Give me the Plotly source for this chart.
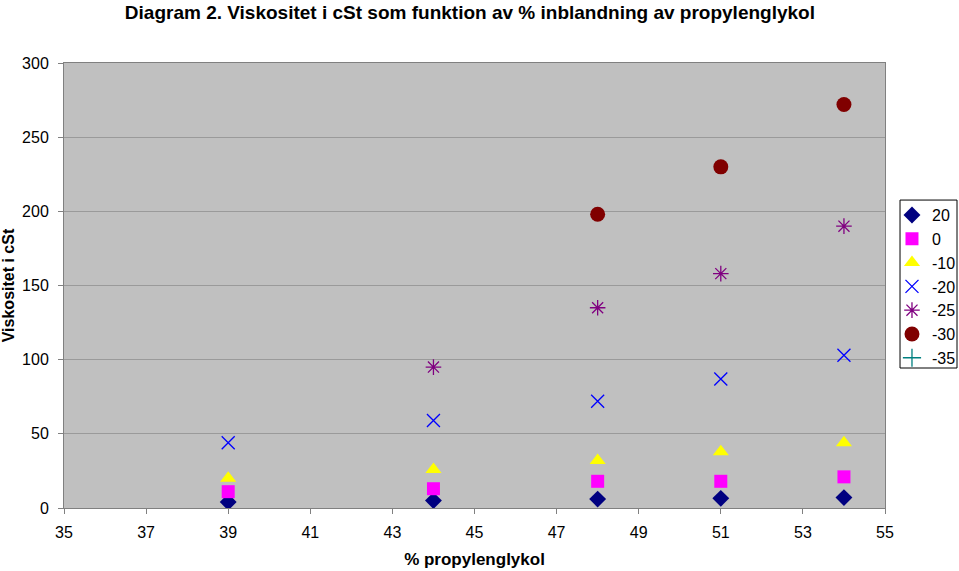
import plotly.graph_objects as go

x_vals = [39, 44, 48, 51, 54]
s20 = [4, 5, 6, 6.5, 7]
s0 = [11, 13, 18, 18, 21]
s_10 = [20, 26, 32, 38, 44]
s_20 = [44, 59, 72, 87, 103]
s_25 = [None, 95, 135, 158, 190]
s_30 = [None, None, 198, 230, 272]
s_35 = [None, None, None, None, None]

series = [
    ("20", s20, "diamond", "#000080", 13, 0),
    ("0", s0, "square", "#FF00FF", 13, 0),
    ("-10", s_10, "triangle-up", "#FFFF00", 14, 0),
    ("-20", s_20, "x-thin-open", "#0000FF", 13, 1.3),
    ("-25", s_25, "asterisk-open", "#800080", 13, 1.3),
    ("-30", s_30, "circle", "#800000", 15, 0),
    ("-35", s_35, "cross-thin-open", "#008080", 13, 1.3),
]

fig = go.Figure()
for name, ys, sym, col, size, lw in series:
    fig.add_trace(go.Scatter(
        x=x_vals, y=ys, mode="markers", name=name,
        marker=dict(symbol=sym, color=col, size=size,
                    line=dict(width=lw, color=col)),
    ))

fig.update_layout(
    width=959, height=571,
    paper_bgcolor="white", plot_bgcolor="#C0C0C0",
    margin=dict(l=64, r=74, t=63, b=63, autoexpand=False),
    font=dict(family="Arial, Liberation Sans, sans-serif", size=14, color="black"),
    title=dict(text="<b>Diagram 2. Viskositet i cSt som funktion av % inblandning av propylenglykol</b>",
               x=0.49, xanchor="center", y=0.99, yanchor="top", pad=dict(t=0),
               font=dict(family="Arial, Liberation Sans, sans-serif", size=19)),
    legend=dict(x=1.0085, xanchor="left", y=0.6965, yanchor="top",
                borderwidth=0, bgcolor="rgba(0,0,0,0)",
                font=dict(size=16), tracegroupgap=0, itemwidth=30),
    showlegend=True,
)
fig.update_xaxes(range=[35, 55], tickvals=list(range(35, 56, 2)), showgrid=False,
                 ticks="outside", ticklen=5, tickcolor="#808080", automargin=False,
                 showline=True, linecolor="#808080", mirror=True, zeroline=False,
                 tickfont=dict(size=16), ticklabelstandoff=5,
                 title=dict(text="<b>% propylenglykol</b>", standoff=12, font=dict(size=17)))
fig.update_yaxes(range=[0, 300], tickvals=list(range(0, 301, 50)), showgrid=True,
                 gridcolor="#9A9A9A", gridwidth=1, automargin=False,
                 ticks="outside", ticklen=5, tickcolor="#808080",
                 showline=True, linecolor="#808080", mirror=True, zeroline=False,
                 tickfont=dict(size=16), ticklabelstandoff=6,
                 title=dict(text="<b>Viskositet i cSt</b>", standoff=14, font=dict(size=16)))
# legend frame
fig.add_shape(type="rect", xref="paper", yref="paper", x0=1.0183, x1=1.0877,
              y0=0.3146, y1=0.692, layer="below",
              fillcolor="white", line=dict(color="black", width=1))

fig.write_html("out.html", config={"displayModeBar": False},
               post_script="document.body.style.margin='0';document.body.style.overflow='hidden';")
